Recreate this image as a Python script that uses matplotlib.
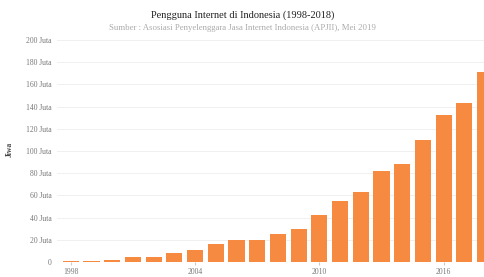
import matplotlib.pyplot as plt

years = list(range(1998, 2019))
users = [0.5, 1.0, 2.0, 4.2, 4.5, 8.0, 11.2, 16.0, 20.0, 20.0, 25.0,
         30.0, 42.0, 55.0, 63.0, 82.0, 88.0, 110.0, 132.7, 143.3, 171.2]
y_ticks = list(range(0, 201, 20))
y_labels = ["0"] + [f"{v} Juta" for v in y_ticks[1:]]
x_ticks = [1998, 2004, 2010, 2016]

plt.rcParams["font.family"] = ["Liberation Serif", "DejaVu Serif"]

fig = plt.figure(figsize=(4.85, 2.77), dpi=100)
ax = fig.add_axes([0.1175, 0.054, 0.8825, 0.816])

ax.bar(years, users, width=0.78, color="#f58a40", zorder=2)
ax.set_xlim(1997.33, 2018.0)
ax.set_ylim(0, 203.6)
ax.set_yticks(y_ticks)
ax.set_yticklabels(y_labels)
ax.set_xticks(x_ticks)
ax.tick_params(axis="both", labelsize=5.5, colors="#777777", length=0, pad=4)
ax.tick_params(axis="x", length=2, color="#cccccc", pad=2)
ax.grid(axis="y", color="#eeeeee", linewidth=0.6, zorder=0)
for s in ax.spines.values():
    s.set_visible(False)
ax.axhline(0, color="#dddddd", linewidth=0.6, zorder=1)
ax.set_ylabel("Jiwa", fontsize=5.5, fontweight="bold", color="#444444", labelpad=9)

fig.text(0.5, 0.937, "Pengguna Internet di Indonesia (1998-2018)",
         ha="center", fontsize=7.5, color="#222222")
fig.text(0.5, 0.893, "Sumber : Asosiasi Penyelenggara Jasa Internet Indonesia (APJII), Mei 2019",
         ha="center", fontsize=6.3, color="#aaaaaa")

fig.savefig("out.png", dpi=100)
